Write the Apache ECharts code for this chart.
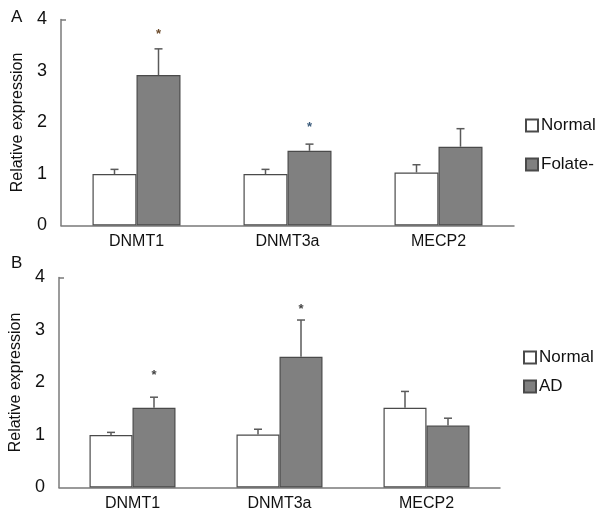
<!DOCTYPE html>
<html>
<head>
<meta charset="utf-8">
<script src="https://cdn.jsdelivr.net/npm/echarts@6/dist/echarts.min.js"></script>
<style>html,body{margin:0;padding:0;background:#fff;}#c{width:600px;height:519px;}</style>
</head>
<body>
<div id="c"></div>
<script>
var categories = ['DNMT1', 'DNMT3a', 'MECP2'];
var yTicks = [0, 1, 2, 3, 4];

// Panel A
var aNormal = [1.0, 1.0, 1.03];
var aNormalErr = [1.09, 1.09, 1.18];
var aFolate = [2.92, 1.45, 1.53];
var aFolateErr = [3.43, 1.58, 1.88];
var aStars = [3.74, 1.95, null];

// Panel B
var bNormal = [1.0, 1.01, 1.52];
var bNormalErr = [1.05, 1.11, 1.83];
var bAD = [1.52, 2.49, 1.18];
var bADErr = [1.72, 3.19, 1.32];
var bStars = [2.17, 3.43, null];

var FONT = '"Liberation Sans", Arial, sans-serif';
var AXIS = '#7a7a7a';
var BORDER = '#4a4a4a';
var FILL = '#808080';

var chart = echarts.init(document.getElementById('c'), null, {renderer: 'canvas'});

function errSeries(gridIdx, vals, errs, side, barW, starVals, starColors) {
  var data = vals.map(function (v, i) { return [i, v, errs[i], starVals ? starVals[i] : null]; });
  return {
    type: 'custom',
    xAxisIndex: gridIdx, yAxisIndex: gridIdx,
    silent: true, z: 10,
    data: data,
    renderItem: function (params, api) {
      var i = api.value(0);
      var top = api.coord([i, api.value(1)]);
      var et = api.coord([i, api.value(2)]);
      var x = top[0] + side * barW / 2;
      var children = [
        {type: 'line', shape: {x1: x, y1: top[1], x2: x, y2: et[1]}, style: {stroke: '#5a5a5a', lineWidth: 1.5}},
        {type: 'line', shape: {x1: x - 4, y1: et[1], x2: x + 4, y2: et[1]}, style: {stroke: '#5a5a5a', lineWidth: 1.5}}
      ];
      var s = api.value(3);
      if (s != null && !isNaN(s)) {
        var sp = api.coord([i, s]);
        children.push({type: 'text', x: x, y: sp[1] + 2, style: {text: '*', font: 'bold 13px ' + FONT, fill: starColors ? starColors[i] : '#444', align: 'center', verticalAlign: 'middle'}});
      }
      return {type: 'group', children: children};
    }
  };
}

var option = {
  animation: false,
  backgroundColor: '#fff',
  textStyle: {fontFamily: FONT},
  title: [
    {text: 'A', left: 6, top: 4, textStyle: {fontFamily: FONT, fontSize: 17, fontWeight: 'normal', color: '#111'}},
    {text: 'B', left: 6, top: 250, textStyle: {fontFamily: FONT, fontSize: 17, fontWeight: 'normal', color: '#111'}}
  ],
  legend: [
    {
      orient: 'vertical', left: 520, top: 112, itemWidth: 12, itemHeight: 12, itemGap: 22, icon: 'rect',
      data: ['Normal', 'Folate-'],
      textStyle: {fontFamily: FONT, fontSize: 17, color: '#111', padding: [0, 0, 0, -2]},
      selectedMode: false
    },
    {
      orient: 'vertical', left: 518, top: 344, itemWidth: 12, itemHeight: 12, itemGap: 12, icon: 'rect',
      data: ['Normal ', 'AD'],
      textStyle: {fontFamily: FONT, fontSize: 17, color: '#111', padding: [0, 0, 0, -2]},
      selectedMode: false
    }
  ],
  grid: [
    {left: 61, top: 19.5, width: 453, height: 206},
    {left: 58, top: 277.5, width: 442, height: 210}
  ],
  xAxis: [0, 1].map(function (g) {
    return {
      type: 'category', gridIndex: g, data: categories,
      axisLine: {lineStyle: {color: AXIS, width: 1.5}},
      axisTick: {inside: true, length: 5, lineStyle: {color: AXIS, width: 1.5}},
      axisLabel: {fontFamily: FONT, fontSize: 16, color: '#111', margin: 8}
    };
  }),
  yAxis: [0, 1].map(function (g) {
    return {
      type: 'value', gridIndex: g, min: yTicks[0], max: yTicks[yTicks.length - 1], interval: 1,
      name: 'Relative expression', nameLocation: 'middle', nameGap: 35,
      nameTextStyle: {fontFamily: FONT, fontSize: 16, color: '#111'},
      axisLine: {show: true, lineStyle: {color: AXIS, width: 1.5}},
      axisTick: {show: true, inside: true, length: 5, customValues: [4], lineStyle: {color: AXIS, width: 1.5}},
      splitLine: {show: false},
      axisLabel: {fontFamily: FONT, fontSize: 18, color: '#111', margin: 14}
    };
  }),
  series: [
    {name: 'Normal', type: 'bar', xAxisIndex: 0, yAxisIndex: 0, data: aNormal, barWidth: 44, barGap: '0%',
      itemStyle: {color: '#fff', borderColor: BORDER, borderWidth: 1.2}},
    {name: 'Folate-', type: 'bar', xAxisIndex: 0, yAxisIndex: 0, data: aFolate, barWidth: 44, barGap: '0%',
      itemStyle: {color: FILL, borderColor: BORDER, borderWidth: 1.2}},
    {name: 'Normal ', type: 'bar', xAxisIndex: 1, yAxisIndex: 1, data: bNormal, barWidth: 43, barGap: '0%',
      itemStyle: {color: '#fff', borderColor: BORDER, borderWidth: 1.2}},
    {name: 'AD', type: 'bar', xAxisIndex: 1, yAxisIndex: 1, data: bAD, barWidth: 43, barGap: '0%',
      itemStyle: {color: FILL, borderColor: BORDER, borderWidth: 1.2}},
    errSeries(0, aNormal, aNormalErr, -1, 44, null, null),
    errSeries(0, aFolate, aFolateErr, 1, 44, aStars, ['#6b4a2a', '#3a5a7a', '#444']),
    errSeries(1, bNormal, bNormalErr, -1, 43, null, null),
    errSeries(1, bAD, bADErr, 1, 43, bStars, ['#444', '#444', '#444'])
  ]
};
chart.setOption(option);
</script>
</body>
</html>
